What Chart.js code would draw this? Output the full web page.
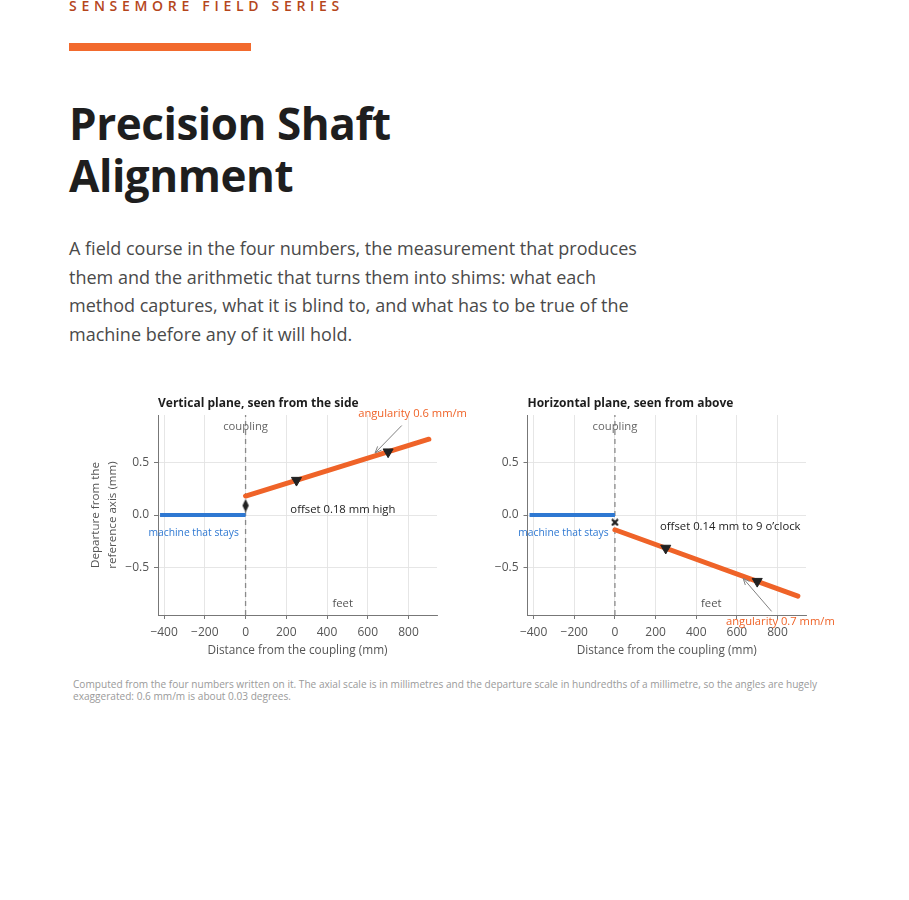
<!DOCTYPE html>
<html><head><meta charset="utf-8">
<script src="https://cdn.jsdelivr.net/npm/chart.js@4.4.1/dist/chart.umd.min.js"></script>
<style>
html,body{margin:0;padding:0;background:#fff;}
body{width:909px;height:900px;position:relative;overflow:hidden;font-family:"Open Sans",sans-serif;}
.kicker{position:absolute;left:69px;top:-4px;font-size:14px;letter-spacing:4.7px;color:#b5461c;font-weight:600;white-space:nowrap;}
.bar{position:absolute;left:69px;top:43px;width:182px;height:8px;background:#f26a2d;}
h1{position:absolute;left:69px;top:97px;margin:0;font-size:44px;line-height:52px;font-weight:700;color:#1e1e1e;letter-spacing:-0.45px;}
p.lede{position:absolute;left:69px;top:234px;width:575px;margin:0;font-size:18px;line-height:28.7px;color:#4a4a4a;}
.caption{position:absolute;left:73px;top:678px;width:770px;font-size:10.1px;line-height:12px;color:#9a9a9a;}
canvas{position:absolute;}
#cv{left:60px;top:385px;}
#ch{left:480px;top:385px;}
</style></head>
<body>
<div class="kicker">SENSEMORE FIELD SERIES</div>
<div class="bar"></div>
<h1>Precision Shaft<br>Alignment</h1>
<p class="lede">A field course in the four numbers, the measurement that produces them and the arithmetic that turns them into shims: what each method captures, what it is blind to, and what has to be true of the machine before any of it will hold.</p>
<canvas id="cv" width="420" height="285" style="width:420px;height:285px"></canvas>
<canvas id="ch" width="390" height="285" style="width:390px;height:285px"></canvas>
<div class="caption">Computed from the four numbers written on it. The axial scale is in millimetres and the departure scale in hundredths of a millimetre, so the angles are hugely exaggerated: 0.6 mm/m is about 0.03 degrees.</div>
<script>
// ---- data ----
const xTicks = [-400, -200, 0, 200, 400, 600, 800];
const xTickLabels = ['\u2212400', '\u2212200', '0', '200', '400', '600', '800'];
const yTicks = [-0.5, 0, 0.5];
const yTickLabels = ['\u22120.5', '0.0', '0.5'];
const xRange = [-430, 940];
const yRange = [-0.95, 0.95];
const stationaryX = [-420, 0];
const stationaryY = [0, 0];
const movableX = [0, 900];
const verticalMovableY = [0.18, 0.72];
const horizontalMovableY = [-0.14, -0.77];
const feetX = [250, 700];
const verticalFeetY = [0.33, 0.60];
const horizontalFeetY = [-0.315, -0.63];
const couplingX = [0, 0];
const couplingY = [-0.95, 0.95];
const offsetMarkX = [0];
const verticalOffsetMarkY = [0.09];
const horizontalOffsetMarkY = [-0.07];

const BLUE = '#2e78d2', ORANGE = '#ef6328', INK = '#222222', GREY = '#666666';
const FONT = '"Open Sans", sans-serif';
Chart.defaults.font.family = FONT;

const pts = (xs, ys) => xs.map((x, i) => ({x, y: ys[i]}));

function markerImage(kind) {
  const c = document.createElement('canvas');
  const g = c.getContext('2d');
  if (kind === 'thinDiamond') {
    c.width = 8; c.height = 14;
    g.fillStyle = INK;
    g.beginPath(); g.moveTo(4, 0.5); g.lineTo(7.2, 7); g.lineTo(4, 13.5); g.lineTo(0.8, 7); g.closePath(); g.fill();
  } else {
    c.width = 8; c.height = 8;
    g.strokeStyle = INK; g.lineWidth = 2.2; g.lineCap = 'butt';
    g.beginPath(); g.moveTo(1, 1); g.lineTo(7, 7); g.moveTo(7, 1); g.lineTo(1, 7); g.stroke();
  }
  return c;
}

const annotate = {
  id: 'annotate',
  afterDraw(chart, args, o) {
    const {ctx, chartArea: ca, scales: {x, y}} = chart;
    ctx.save();
    ctx.font = '700 12px ' + FONT;
    ctx.fillStyle = '#1d1d1d'; ctx.textAlign = 'left'; ctx.textBaseline = 'middle';
    ctx.fillText(o.title, ca.left, ca.top - 11);
    for (const a of o.arrows) {
      const x0 = x.getPixelForValue(a.from[0]), y0 = y.getPixelForValue(a.from[1]);
      const x1 = x.getPixelForValue(a.to[0]), y1 = y.getPixelForValue(a.to[1]);
      ctx.strokeStyle = '#808080'; ctx.lineWidth = 1;
      ctx.beginPath(); ctx.moveTo(x0, y0); ctx.lineTo(x1, y1); ctx.stroke();
      const ang = Math.atan2(y1 - y0, x1 - x0), L = 7, s = 0.4;
      ctx.beginPath();
      ctx.moveTo(x1 - L * Math.cos(ang - s), y1 - L * Math.sin(ang - s));
      ctx.lineTo(x1, y1);
      ctx.lineTo(x1 - L * Math.cos(ang + s), y1 - L * Math.sin(ang + s));
      ctx.stroke();
    }
    for (const t of o.texts) {
      ctx.font = (t.size || 11) + 'px ' + FONT;
      ctx.fillStyle = t.color; ctx.textAlign = t.align || 'center'; ctx.textBaseline = 'middle';
      ctx.fillText(t.text, x.getPixelForValue(t.at[0]), y.getPixelForValue(t.at[1]));
    }
    ctx.restore();
  }
};

function makeChart(id, cfg) {
  const tickFont = {size: 12, family: FONT};
  return new Chart(document.getElementById(id), {
    type: 'scatter',
    data: {datasets: [
      {data: pts(feetX, cfg.feetY), showLine: false, pointStyle: 'triangle', rotation: 180, pointRadius: 5.8,
       pointBackgroundColor: INK, pointBorderColor: INK, pointBorderWidth: 1, order: 0},
      {data: pts(offsetMarkX, cfg.offsetY), showLine: false, pointStyle: markerImage(cfg.offsetMarker), order: 1},
      {data: pts(movableX, cfg.movableY), showLine: true, borderColor: ORANGE, borderWidth: 5, borderCapStyle: 'round', pointRadius: 0, order: 2},
      {data: pts(stationaryX, stationaryY), showLine: true, borderColor: BLUE, borderWidth: 4.2, pointRadius: 0, order: 3},
      {data: pts(couplingX, couplingY), showLine: true, borderColor: '#8a8a8a', borderWidth: 1.3, borderDash: [5, 4], pointRadius: 0, order: 4}
    ]},
    options: {
      responsive: false, animation: false, devicePixelRatio: window.devicePixelRatio || 1,
      layout: {padding: {left: 0, top: 30, right: cfg.padRight, bottom: 0}},
      plugins: {legend: {display: false}, tooltip: {enabled: false}, annotate: cfg.ann},
      scales: {
        x: {type: 'linear', min: xRange[0], max: xRange[1],
            afterBuildTicks: s => { s.ticks = xTicks.map(v => ({value: v})); },
            afterFit: s => { s.height = 55; },
            ticks: {autoSkip: false, maxRotation: 0, padding: 6, color: '#555', font: tickFont,
                    callback: v => xTickLabels[xTicks.indexOf(v)]},
            grid: {color: '#e3e3e3', lineWidth: 0.9, tickLength: 4, tickColor: '#777', tickWidth: 1},
            border: {display: true, color: '#777', width: 1},
            title: {display: true, text: 'Distance from the coupling (mm)', color: '#555',
                    font: {size: 11.8, family: FONT, lineHeight: 1.2}, padding: {top: 0, bottom: 12.5}}},
        y: {type: 'linear', min: yRange[0], max: yRange[1],
            afterBuildTicks: s => { s.ticks = yTicks.map(v => ({value: v})); },
            afterFit: s => { s.width = cfg.yWidth; },
            ticks: {autoSkip: false, padding: 5, color: '#555', font: tickFont,
                    callback: v => yTickLabels[yTicks.indexOf(v)]},
            grid: {color: '#e3e3e3', lineWidth: 0.9, tickLength: 4, tickColor: '#777', tickWidth: 1},
            border: {display: true, color: '#777', width: 1},
            title: {display: !!cfg.yTitle, text: cfg.yTitle || '', color: '#555',
                    font: {size: 11.6, family: FONT, lineHeight: 1.45}, padding: {top: 27.5, bottom: 0}}}
      }
    },
    plugins: [annotate]
  });
}

makeChart('cv', {
  feetY: verticalFeetY, movableY: verticalMovableY, offsetY: verticalOffsetMarkY, offsetMarker: 'thinDiamond',
  padRight: 43, yWidth: 98, yTitle: ['Departure from the', 'reference axis (mm)'],
  ann: {
    title: 'Vertical plane, seen from the side',
    texts: [
      {text: 'coupling', at: [0, 0.84], color: GREY, size: 11.3},
      {text: 'feet', at: [477, -0.84], color: '#555', size: 11.3},
      {text: 'machine that stays', at: [-255, -0.175], color: BLUE, size: 10.3},
      {text: 'offset 0.18 mm high', at: [220, 0.045], color: INK, align: 'left', size: 11.3},
      {text: 'angularity 0.6 mm/m', at: [820, 0.96], color: ORANGE, size: 11.2}
    ],
    arrows: [{from: [767, 0.85], to: [636, 0.59]}]
  }
});

makeChart('ch', {
  feetY: horizontalFeetY, movableY: horizontalMovableY, offsetY: horizontalOffsetMarkY, offsetMarker: 'x',
  padRight: 64, yWidth: 47.5, yTitle: null,
  ann: {
    title: 'Horizontal plane, seen from above',
    texts: [
      {text: 'coupling', at: [0, 0.84], color: GREY, size: 11.3},
      {text: 'feet', at: [474, -0.84], color: '#555', size: 11.3},
      {text: 'machine that stays', at: [-253, -0.175], color: BLUE, size: 10.3},
      {text: 'offset 0.14 mm to 9 o\u2019clock', at: [222, -0.11], color: INK, align: 'left', size: 11.3},
      {text: 'angularity 0.7 mm/m', at: [814, -1.018], color: ORANGE, size: 11.2}
    ],
    arrows: [{from: [771, -0.916], to: [631, -0.602]}]
  }
});
</script>
</body></html>
